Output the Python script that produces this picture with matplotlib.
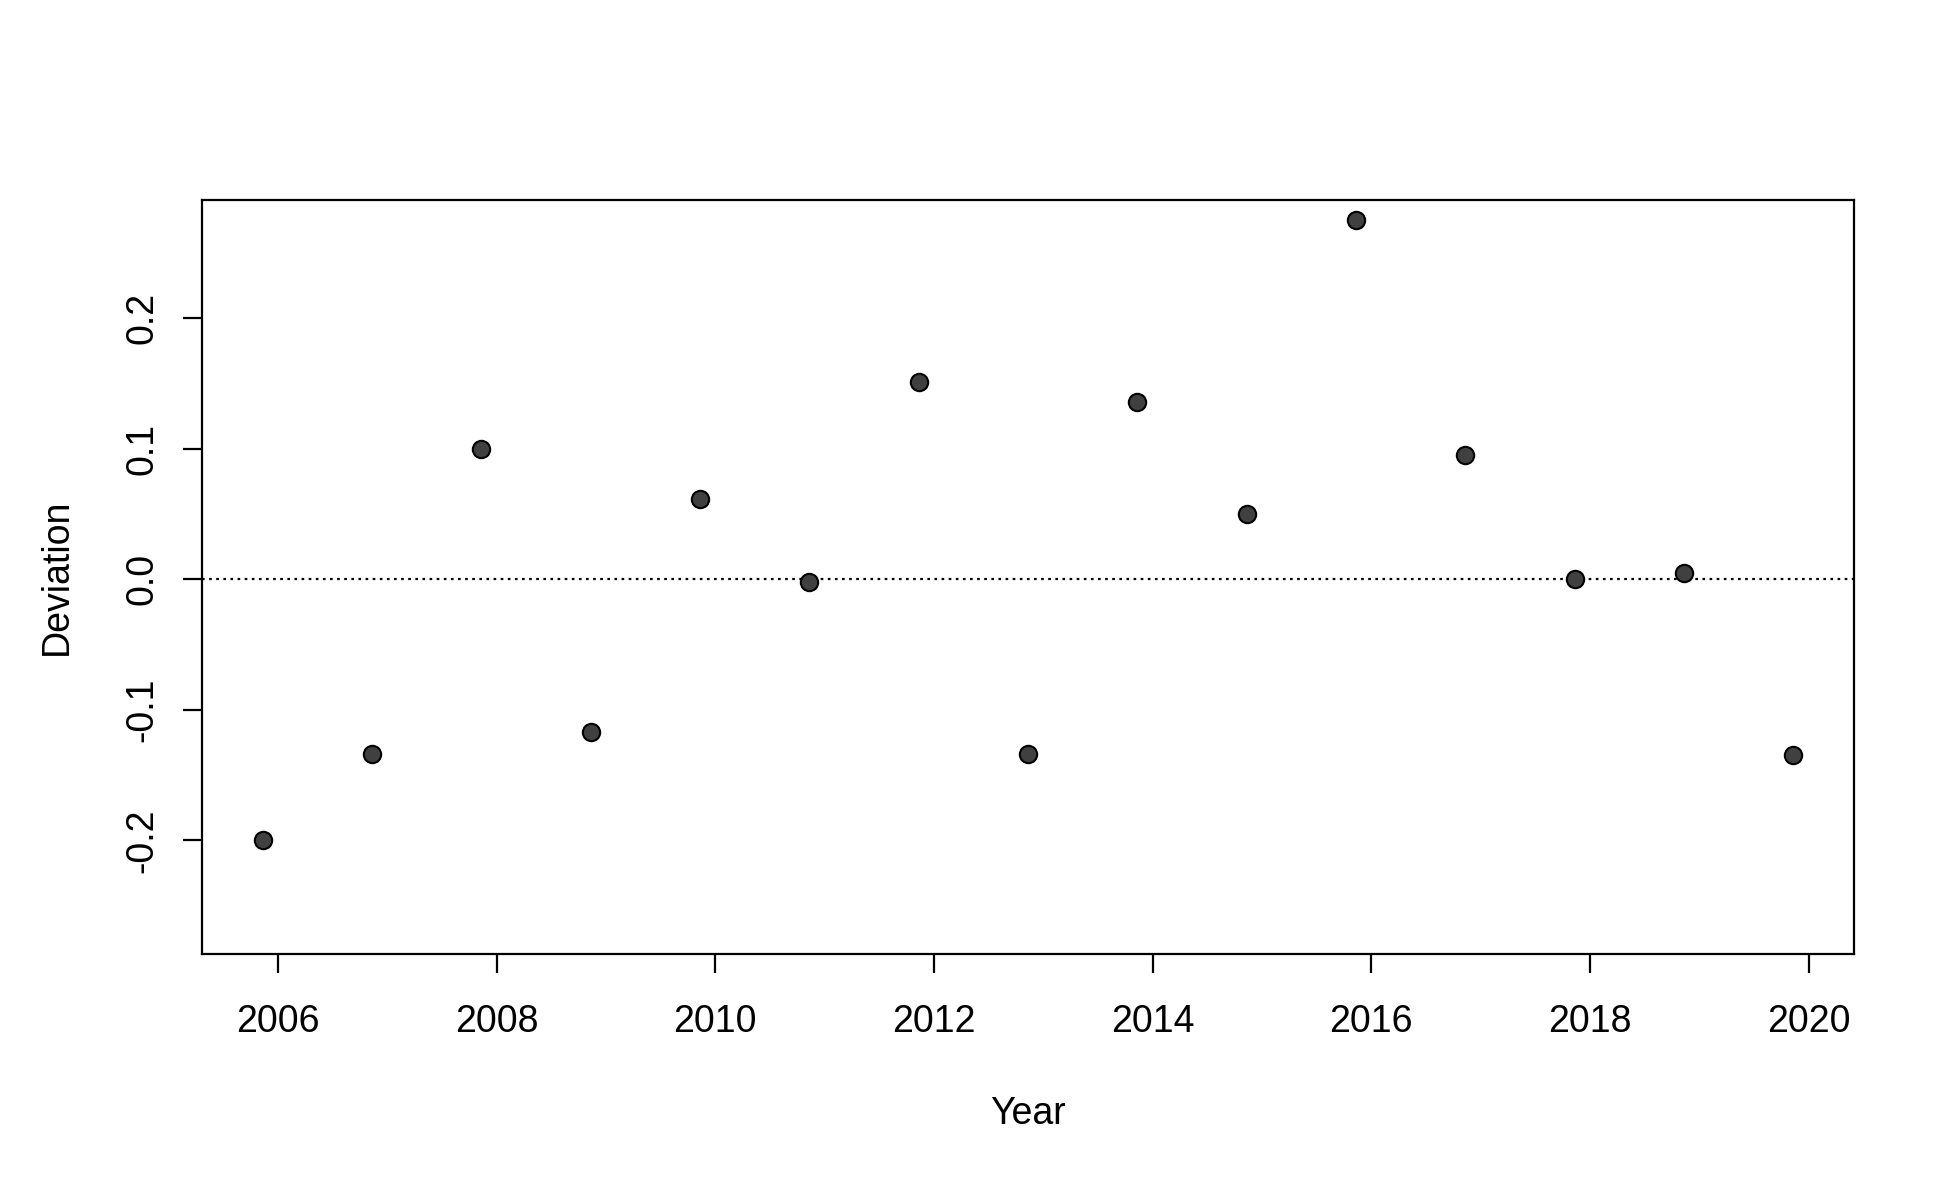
import matplotlib
matplotlib.use("Agg")
import matplotlib.pyplot as plt

years = [2005.86, 2006.86, 2007.86, 2008.86, 2009.86, 2010.86, 2011.86, 2012.86,
         2013.86, 2014.86, 2015.86, 2016.86, 2017.86, 2018.86, 2019.86]
deviation = [-0.200, -0.134, 0.0995, -0.117, 0.061, -0.002, 0.151, -0.134,
             0.136, 0.050, 0.275, 0.095, 0.000, 0.005, -0.135]
xticks = [2006, 2008, 2010, 2012, 2014, 2016, 2018, 2020]
yticks = [-0.2, -0.1, 0.0, 0.1, 0.2]

plt.rcParams['font.family'] = ['Liberation Sans', 'DejaVu Sans']
fig = plt.figure(figsize=(19.5, 12), dpi=100)
ax = fig.add_axes([0.1038, 0.205, 0.951 - 0.1038, 0.833 - 0.205])
ax.axhline(0, color='black', linestyle=(0, (1.2, 2.0)), linewidth=1.6, zorder=1)
ax.plot(years, deviation, 'o', markersize=12.5, markerfacecolor='#404040',
        markeredgecolor='black', markeredgewidth=1.5, zorder=3)
ax.set_xlim(2005.31, 2020.42)
ax.set_ylim(-0.287, 0.29)
ax.set_xticks(xticks)
ax.set_xticklabels([str(t) for t in xticks])
ax.set_yticks(yticks)
ax.set_yticklabels([f"{t:.1f}" for t in yticks], rotation=90, va='center')
ax.tick_params(labelsize=27, length=14, width=1.6)
ax.tick_params(axis='x', pad=22)
ax.tick_params(axis='y', pad=16)
for s in ax.spines.values():
    s.set_linewidth(1.6)
ax.set_xlabel("Year", fontsize=27, labelpad=40)
ax.set_ylabel("Deviation", fontsize=27, labelpad=36)
fig.savefig("out.png", dpi=100)
